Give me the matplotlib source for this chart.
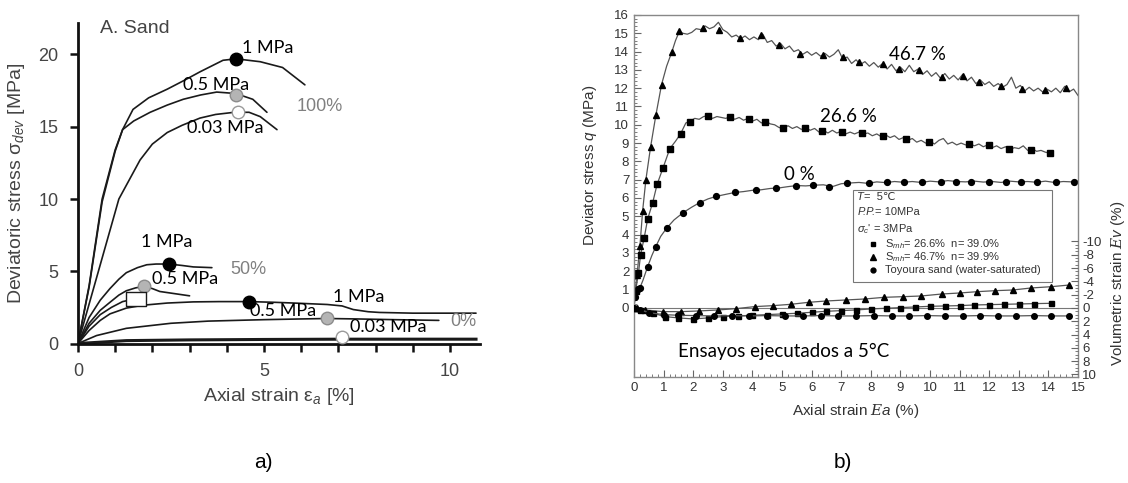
import numpy as np
import matplotlib.pyplot as plt
from matplotlib.patches import Rectangle

plt.rcParams['font.family'] = ['Liberation Sans', 'DejaVu Sans']
plt.rcParams['mathtext.fontset'] = 'custom'
plt.rcParams['mathtext.rm'] = 'Liberation Sans'
plt.rcParams['mathtext.it'] = 'Liberation Sans:italic'
plt.rcParams['mathtext.cal'] = 'DejaVu Serif:italic'

NOTE_FONT = ['Lato', 'DejaVu Sans']

# ---------------- a) sand, deviatoric stress vs axial strain ----------------
# hydrate saturation 100 %
s100_1mpa_x = [0, 0.3, 0.65, 1.0, 1.2, 1.48, 1.9, 2.4, 2.85, 3.28, 3.9, 4.25, 4.9, 5.5, 6.1]
s100_1mpa_y = [0, 4.0, 10.0, 13.4, 14.8, 16.2, 17.0, 17.6, 18.2, 18.8, 19.6, 19.7, 19.5, 19.1, 17.9]
s100_05mpa_x = [0, 0.3, 0.65, 1.0, 1.2, 1.5, 1.94, 2.4, 2.83, 3.3, 3.73, 4.24, 4.7, 5.08]
s100_05mpa_y = [0, 3.9, 9.8, 13.3, 14.8, 15.4, 16.0, 16.5, 16.9, 17.2, 17.4, 17.3, 16.9, 16.0]
s100_003mpa_x = [0, 0.55, 1.1, 1.67, 2.0, 2.4, 2.8, 3.28, 3.7, 4.2, 4.6, 4.9, 5.35]
s100_003mpa_y = [0, 5.0, 10.0, 12.7, 13.8, 14.6, 15.1, 15.6, 15.85, 16.0, 16.0, 15.7, 14.8]
# hydrate saturation 50 %
s50_1mpa_x = [0, 0.3, 0.6, 0.86, 1.1, 1.3, 1.6, 1.85, 2.1, 2.45, 2.8, 3.1, 3.6]
s50_1mpa_y = [0, 1.8, 3.0, 3.8, 4.45, 4.9, 5.25, 5.45, 5.5, 5.5, 5.4, 5.3, 5.25]
s50_05mpa_x = [0, 0.3, 0.6, 0.86, 1.1, 1.3, 1.55, 1.77, 2.0, 2.2, 2.6, 3.0]
s50_05mpa_y = [0, 1.4, 2.3, 2.85, 3.35, 3.65, 3.85, 3.95, 3.8, 3.6, 3.45, 3.3]
s50_003mpa_x = [0, 0.3, 0.6, 0.9, 1.2, 1.56]
s50_003mpa_y = [0, 1.2, 2.0, 2.5, 2.9, 3.1]
# hydrate saturation 0 %
s0_1mpa_x = [0, 0.3, 0.6, 0.86, 1.3, 1.75, 2.4, 3.1, 3.8, 4.6, 5.3, 5.8, 6.7, 7.1, 7.4, 7.8, 8.1, 9.0, 10.0, 10.7]
s0_1mpa_y = [0, 0.9, 1.6, 2.05, 2.45, 2.65, 2.8, 2.88, 2.9, 2.9, 2.85, 2.8, 2.7, 2.6, 2.35, 2.2, 2.15, 2.1, 2.1, 2.1]
s0_05mpa_x = [0, 0.5, 1.3, 2.5, 3.5, 5.0, 6.0, 6.7, 7.5, 8.5, 9.7]
s0_05mpa_y = [0, 0.55, 1.05, 1.4, 1.55, 1.65, 1.7, 1.73, 1.7, 1.65, 1.6]
s0_003mpa_x = [0, 1.3, 3.0, 5.0, 7.1, 9.0, 10.7]
s0_003mpa_y = [0, 0.2, 0.25, 0.28, 0.3, 0.3, 0.3]

# peak markers: (strain, stress)
peak_1mpa = [(4.25, 19.7), (2.45, 5.5), (4.6, 2.9)]
peak_05mpa = [(4.24, 17.2), (1.77, 3.95), (6.7, 1.75)]
peak_003mpa = [(4.29, 16.0), (7.1, 0.45)]
peak_square = (1.56, 3.1)

# ---------------- b) methane hydrate sand, T = 5 C ----------------
# Smh = 46.7 %
q467_rise_x = [0, 0.03, 0.1, 0.2, 0.29, 0.4, 0.56, 0.74, 0.93, 1.1, 1.27, 1.4, 1.53]
q467_rise_y = [0, 0.9, 1.8, 3.4, 5.3, 7.0, 8.8, 10.55, 12.2, 13.2, 13.95, 14.6, 15.1]
q467_tail_x0, q467_tail_dx = 1.65, 0.15
q467_tail_y = [15.0, 14.95, 15.05, 15.25, 15.2, 15.4, 15.25, 15.35, 15.6, 15.2,
               15.05, 14.8, 14.9, 14.7, 14.85, 14.65, 14.8, 14.65, 14.95, 14.5,
               14.6, 14.3, 14.45, 14.15, 14.3, 14.0, 14.1, 13.85, 14.0, 13.8,
               13.95, 13.75, 13.9, 13.7, 13.85, 14.1, 13.6, 13.7, 13.35, 13.55,
               13.3, 13.45, 13.2, 13.4, 13.15, 13.35, 13.05, 13.3, 12.95, 13.15,
               12.9, 13.25, 12.9, 13.05, 12.75, 12.95, 12.65, 12.85, 12.55, 12.8,
               12.5, 12.7, 12.45, 12.75, 12.4, 12.6, 12.25, 12.45, 12.2, 12.35,
               12.1, 12.25, 12.05, 12.2, 12.6, 12.0, 12.15, 11.85, 12.05, 11.85,
               12.0, 11.8, 11.95, 11.8, 12.0, 11.75, 12.1, 11.8, 11.95, 11.6]
q467_mark_x = [0.03, 0.1, 0.2, 0.29, 0.4, 0.56, 0.74, 0.93, 1.27, 1.53, 2.33, 2.88, 3.57, 4.3,
               4.91, 5.6, 6.37, 7.05, 7.6, 8.4, 8.96, 9.63, 10.4, 11.1, 11.65, 12.4, 13.1, 13.9, 14.6]
q467_mark_y = [0.9, 1.8, 3.4, 5.3, 7.0, 8.8, 10.55, 12.2, 13.95, 15.1, 15.3, 15.2, 14.75, 14.9,
               14.35, 13.85, 13.8, 13.7, 13.45, 13.3, 13.05, 13.0, 12.6, 12.65, 12.35, 12.1, 11.95, 11.9, 12.0]

# Smh = 26.6 %
q266_rise_x = [0, 0.05, 0.15, 0.22, 0.34, 0.46, 0.63, 0.78, 0.98, 1.21, 1.4, 1.57, 1.75, 1.9]
q266_rise_y = [0, 0.9, 1.9, 2.9, 3.8, 4.85, 5.75, 6.75, 7.65, 8.7, 9.1, 9.5, 10.1, 10.2]
q266_tail_x0, q266_tail_dx = 2.05, 0.15
q266_tail_y = [10.35, 10.3, 10.45, 10.5, 10.35, 10.45, 10.4, 10.35, 10.45, 10.3,
               10.4, 10.25, 10.35, 10.2, 10.3, 10.1, 10.2, 10.05, 10.0, 9.85,
               9.8, 9.95, 9.8, 9.9, 9.75, 9.85, 9.7, 9.8, 9.6, 9.7,
               9.55, 9.7, 9.55, 9.65, 9.5, 9.6, 9.5, 9.6, 9.5, 9.55,
               9.4, 9.5, 9.35, 9.45, 9.3, 9.4, 9.2, 9.3, 9.15, 9.25,
               9.05, 9.15, 9.0, 9.1, 8.95, 9.15, 9.25, 8.95, 9.05, 8.9,
               9.0, 8.9, 8.95, 8.85, 8.95, 8.8, 8.9, 8.75, 8.85, 8.7,
               8.8, 8.65, 8.75, 8.7, 8.85, 8.6, 8.7, 8.55, 8.6, 8.5, 8.45]
q266_mark_x = [0.05, 0.15, 0.22, 0.34, 0.46, 0.63, 0.78, 0.98, 1.21, 1.57, 1.89, 2.5, 3.23, 3.87,
               4.41, 5.02, 5.76, 6.36, 7.04, 7.7, 8.4, 9.2, 9.97, 11.3, 12.0, 12.66, 13.4, 14.05]
q266_mark_y = [0.9, 1.9, 2.9, 3.8, 4.85, 5.75, 6.75, 7.65, 8.7, 9.5, 10.15, 10.5, 10.4, 10.3,
               10.15, 9.8, 9.8, 9.65, 9.6, 9.55, 9.4, 9.2, 9.05, 8.95, 8.9, 8.7, 8.6, 8.45]

# Toyoura sand, water saturated (0 %)
q0_x = [0, 0.03, 0.1, 0.2, 0.3, 0.46, 0.6, 0.73, 0.9, 1.1, 1.35, 1.66, 1.95, 2.22, 2.5, 2.78,
        3.1, 3.4, 3.7, 4.0, 4.3, 4.6, 4.9, 5.2, 5.5, 5.8, 6.1, 6.4, 6.7, 7.0, 7.3, 7.6, 7.9,
        8.2, 8.5, 8.8, 9.1, 9.4, 9.7, 10.0, 10.3, 10.6, 10.9, 11.2, 11.5, 11.8, 12.1, 12.4,
        12.7, 13.0, 13.3, 13.6, 13.9, 14.2, 14.5, 14.8, 15.0]
q0_y = [0, 0.6, 1.0, 1.1, 1.5, 2.25, 2.85, 3.33, 3.9, 4.35, 4.8, 5.2, 5.5, 5.75, 5.95, 6.09,
        6.2, 6.3, 6.35, 6.42, 6.45, 6.52, 6.55, 6.62, 6.68, 6.66, 6.7, 6.72, 6.62, 6.78, 6.82,
        6.85, 6.8, 6.88, 6.84, 6.9, 6.86, 6.9, 6.85, 6.92, 6.88, 6.95, 6.9, 6.88, 6.92, 6.87,
        6.9, 6.85, 6.92, 6.88, 6.9, 6.86, 6.92, 6.85, 6.9, 6.88, 6.92]
q0_mark_x = [0.03, 0.15, 0.2, 0.46, 0.73, 1.1, 1.66, 2.22, 2.78, 3.4, 4.13, 4.8, 5.48, 6.03, 6.6,
             7.2, 7.95, 8.55, 9.12, 9.73, 10.37, 10.87, 11.4, 12.0, 12.56, 13.06, 13.6, 14.24, 14.85]
q0_mark_y = [0.6, 1.05, 1.1, 2.25, 3.33, 4.35, 5.2, 5.75, 6.09, 6.3, 6.43, 6.54, 6.68, 6.7, 6.62,
             6.8, 6.82, 6.88, 6.88, 6.86, 6.9, 6.9, 6.9, 6.9, 6.88, 6.89, 6.86, 6.87, 6.9]

# volumetric strain (positive = contraction)
ev467_x = [0, 0.1, 0.37, 0.98, 1.6, 2.2, 2.84, 3.45, 4.07, 4.7, 5.3, 5.9, 6.5, 7.15, 7.8,
           8.45, 9.1, 9.7, 10.4, 11.0, 11.6, 12.2, 12.8, 13.4, 14.1, 14.7]
ev467_y = [0, 0.05, 0.3, 0.55, 0.55, 0.45, 0.3, 0.1, -0.2, -0.35, -0.55, -0.85, -1.05, -1.2, -1.35,
           -1.6, -1.7, -1.8, -2.1, -2.25, -2.45, -2.6, -2.7, -3.0, -3.2, -3.45]
ev266_x = [0, 0.2, 0.65, 1.05, 1.5, 2.0, 2.5, 3.0, 3.5, 4.0, 4.5, 5.0, 5.5, 6.0, 6.5, 7.0,
           7.5, 8.0, 8.5, 9.0, 9.5, 10.0, 10.5, 11.0, 11.5, 12.0, 12.5, 13.0, 13.5, 14.1]
ev266_y = [0, 0.3, 0.8, 1.3, 1.5, 1.65, 1.5, 1.3, 1.2, 1.1, 1.0, 0.9, 0.8, 0.65, 0.5, 0.4,
           0.3, 0.15, 0.05, -0.05, -0.15, -0.25, -0.3, -0.35, -0.45, -0.5, -0.55, -0.6, -0.65, -0.7]
ev0_x = [0, 0.2, 0.5, 1.0, 1.5, 2.1, 2.7, 3.3, 3.9, 4.5, 5.1, 5.7, 6.3, 6.9, 7.5, 8.1, 8.7,
         9.3, 9.9, 10.5, 11.1, 11.7, 12.3, 12.9, 13.5, 14.1, 14.7]
ev0_y = [0, 0.3, 0.7, 1.0, 1.1, 1.15, 1.2, 1.15, 1.2, 1.15, 1.2, 1.2, 1.15, 1.2, 1.2, 1.15, 1.2,
         1.2, 1.15, 1.2, 1.2, 1.15, 1.2, 1.2, 1.15, 1.2, 1.2]


fig = plt.figure(figsize=(11.28, 4.83), dpi=100)

# ===== panel a =====
ax = fig.add_axes([0.0691, 0.2888, 0.3562, 0.6642])
line_kw = dict(color='#1a1a1a', lw=1.2, solid_capstyle='round')
for xs, ys in [(s100_1mpa_x, s100_1mpa_y), (s100_05mpa_x, s100_05mpa_y),
               (s100_003mpa_x, s100_003mpa_y), (s50_1mpa_x, s50_1mpa_y),
               (s50_05mpa_x, s50_05mpa_y), (s50_003mpa_x, s50_003mpa_y),
               (s0_1mpa_x, s0_1mpa_y), (s0_05mpa_x, s0_05mpa_y)]:
    ax.plot(xs, ys, **line_kw)
ax.plot(s0_003mpa_x, s0_003mpa_y, color='#1a1a1a', lw=2.2)

for px, py in peak_1mpa:
    ax.plot(px, py, 'o', ms=9, mfc='black', mec='black', zorder=5)
for px, py in peak_05mpa:
    ax.plot(px, py, 'o', ms=9, mfc='#b4b4b4', mec='#8c8c8c', zorder=5)
for px, py in peak_003mpa:
    ax.plot(px, py, 'o', ms=9, mfc='white', mec='#9a9a9a', zorder=5)
rect_marker = [(-1.5, -1), (1.5, -1), (1.5, 1), (-1.5, 1), (-1.5, -1)]
ax.plot(*peak_square, marker=rect_marker, ms=15, mfc='white', mec='#1a1a1a', mew=1, zorder=5)

ax.set_xlim(0, 10.8)
ax.set_ylim(0, 22.2)
ax.set_xticks(range(0, 11))
ax.set_xticklabels(['0', '', '', '', '', '5', '', '', '', '', '10'])
ax.set_yticks([0, 5, 10, 15, 20])
for side in ['top', 'right']:
    ax.spines[side].set_visible(False)
for side in ['left', 'bottom']:
    ax.spines[side].set_linewidth(2)
    ax.spines[side].set_color('#111111')
ax.tick_params(direction='out', length=6, width=1.8, color='#111111',
               labelsize=13, labelcolor='#444444', pad=8)
ax.set_xlabel('Axial strain ε$_a$ [%]', fontsize=14, color='#444444', labelpad=4)
ax.set_ylabel('Deviatoric stress σ$_{dev}$ [MPa]', fontsize=14, color='#444444', labelpad=8)
ax.text(0.59, 21.8, 'A. Sand', fontsize=14, color='#444444', va='center')

note_kw = dict(fontsize=13, family=NOTE_FONT, color='black', va='center')
ax.text(4.4, 20.45, '1 MPa', **note_kw)
ax.text(2.82, 17.9, '0.5 MPa', **note_kw)
ax.text(2.93, 14.9, '0.03 MPa', **note_kw)
ax.text(1.69, 7.0, '1 MPa', **note_kw)
ax.text(1.99, 4.46, '0.5 MPa', **note_kw)
ax.text(6.85, 3.2, '1 MPa', **note_kw)
ax.text(4.62, 2.25, '0.5 MPa', **note_kw)
ax.text(7.31, 1.14, '0.03 MPa', **note_kw)
sat_kw = dict(fontsize=13, color='#808080', va='center')
ax.text(5.89, 16.4, '100%', **sat_kw)
ax.text(4.09, 5.09, '50%', **sat_kw)
ax.text(10.0, 1.49, '0%', **sat_kw)

# ===== panel b =====
bx = fig.add_axes([0.5621, 0.2195, 0.3936, 0.7495])
curve_kw = dict(color='#555555', lw=0.9)
mk_kw = dict(ls='none', color='black', ms=4.2)

q467_tail_x = q467_tail_x0 + q467_tail_dx * np.arange(len(q467_tail_y))
q266_tail_x = q266_tail_x0 + q266_tail_dx * np.arange(len(q266_tail_y))
bx.plot(q467_rise_x + list(q467_tail_x), q467_rise_y + q467_tail_y, **curve_kw)
bx.plot(q266_rise_x + list(q266_tail_x), q266_rise_y + q266_tail_y, **curve_kw)
bx.plot(q0_x, q0_y, **curve_kw)
bx.plot(q467_mark_x, q467_mark_y, marker='^', **mk_kw)
bx.plot(q266_mark_x, q266_mark_y, marker='s', **{**mk_kw, 'ms': 3.8})
bx.plot(q0_mark_x, q0_mark_y, marker='o', **mk_kw)
bx.axhline(0, color='#777777', lw=0.8)

bx.set_xlim(0, 15)
bx.set_ylim(-3.78, 16)
bx.set_xticks(range(0, 16))
bx.set_xticks(np.arange(0, 15.01, 0.2), minor=True)
bx.set_yticks(range(0, 17))
bx.set_yticks(np.arange(0, 16.01, 0.2), minor=True)
for sp in bx.spines.values():
    sp.set_color('#888888')
    sp.set_linewidth(1)
bx.tick_params(which='both', direction='in', color='#666666', labelsize=9.5,
               labelcolor='#333333', right=False, top=False)
bx.tick_params(which='major', length=5, width=0.8)
bx.tick_params(which='minor', length=2.5, width=0.6)
bx.set_xlabel('Axial strain $\\mathcal{E}a$ (%)', fontsize=11, color='#333333', labelpad=6)
bx.set_ylabel('Deviator stress $q$ (MPa)', fontsize=11, color='#333333')
bx.yaxis.set_label_coords(-0.078, 0.585)

vx = bx.twinx()
vx.plot(ev467_x, ev467_y, marker='^', ms=4, color='#555555', lw=0.9, mfc='black', mec='black')
vx.plot(ev266_x, ev266_y, marker='s', ms=3.6, color='#555555', lw=0.9, mfc='black', mec='black')
vx.plot(ev0_x, ev0_y, marker='o', ms=4, color='#555555', lw=0.9, mfc='black', mec='black')
vx.set_ylim(10.38, -44.06)
vx.set_yticks(range(-10, 11, 2))
vx.set_yticklabels(['-10', '-8', '-6', '-4', '-2', '0', '2', '4', '6', '8', '10'])
vx.set_yticks(np.arange(-10, 10.01, 0.5), minor=True)
for sp in vx.spines.values():
    sp.set_visible(False)
vx.tick_params(which='both', direction='in', color='#666666', labelsize=9.5,
               labelcolor='#333333', pad=3)
vx.tick_params(which='major', length=5, width=0.8)
vx.tick_params(which='minor', length=2.5, width=0.6)
vx.set_ylabel('Volumetric strain $\\mathcal{E}v$ (%)', fontsize=11, color='#333333')
vx.yaxis.set_label_coords(1.07, 0.26)

big_kw = dict(fontsize=13.5, family=NOTE_FONT, color='black', ha='center', va='center')
bx.text(9.56, 13.83, '46.7 %', **big_kw)
bx.text(7.26, 10.44, '26.6 %', **big_kw)
bx.text(5.57, 7.27, '0 %', **big_kw)
bx.text(5.07, -2.4, 'Ensayos ejecutados a 5°C', **big_kw)

# test conditions box
bx.add_patch(Rectangle((0.493, 0.2624), 0.448, 0.2542, transform=bx.transAxes,
                       fill=True, fc='white', ec='#777777', lw=0.8, zorder=6))
leg_kw = dict(transform=bx.transAxes, fontsize=8, color='#333333', va='center', zorder=7)
bx.text(0.503, 0.497, 'T', style='italic', **leg_kw)
bx.text(0.517, 0.497, '=  5℃', **leg_kw)
bx.text(0.503, 0.455, 'P.P.', style='italic', **leg_kw)
bx.text(0.543, 0.455, '= 10MPa', **leg_kw)
bx.text(0.503, 0.408, "$\\sigma_c$' = 3MPa", **leg_kw)
bx.text(0.565, 0.367, 'S$_{mh}$= 26.6%  n= 39.0%', **leg_kw)
bx.text(0.565, 0.332, 'S$_{mh}$= 46.7%  n= 39.9%', **leg_kw)
bx.text(0.565, 0.296, 'Toyoura sand (water-saturated)', **leg_kw)
bx.plot([0.538], [0.367], 's', ms=3.5, color='black', transform=bx.transAxes, zorder=7)
bx.plot([0.538], [0.332], '^', ms=3.8, color='black', transform=bx.transAxes, zorder=7)
bx.plot([0.538], [0.296], 'o', ms=3.5, color='black', transform=bx.transAxes, zorder=7)

# panel captions
cap_kw = dict(fontsize=15, family=['Liberation Sans Narrow', 'Liberation Sans'],
              ha='center', va='center', color='black')
fig.text(263 / 1128, 1 - 462 / 483, 'a)', **cap_kw)
fig.text(843 / 1128, 1 - 462 / 483, 'b)', **cap_kw)

fig.savefig('out.png', dpi=100)
